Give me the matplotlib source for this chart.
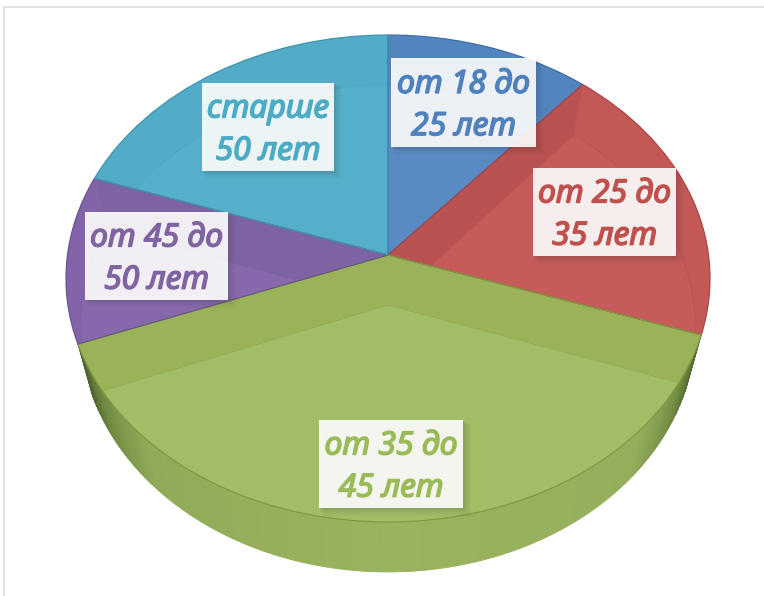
import numpy as np
import matplotlib
matplotlib.use('Agg')
import matplotlib.pyplot as plt
import matplotlib.patheffects as pe
from matplotlib.patches import Rectangle
from matplotlib.transforms import Transform
from matplotlib.colors import LinearSegmentedColormap

# percent of the pie
categories = ['от 18 до\n25 лет', 'от 25 до\n35 лет', 'от 35 до\n45 лет', 'от 45 до\n50 лет', 'старше\n50 лет']
values = [11.3, 18.9, 39.0, 11.1, 19.7]

top_colors = ['#5285c0', '#c25956', '#9ab258', '#8464a8', '#53acc7']
floor_colors = ['#5a8ac4', '#c55c5a', '#a1bd65', '#8868ac', '#56afca']
band_colors = ['#5082bf', '#b95250', '#9ab258', '#7e63a2', '#50aac6']
rim_colors = ['#4d7fba', '#b5504e', '#86a24c', '#7a5e9c', '#4ba3bd']
edge_colors = ['#3f6ea6', '#a84745', '#7f9a45', '#6b5290', '#3f94ae']
text_colors = ['#4f81bd', '#c0504d', '#9bbb59', '#8064a2', '#4bacc6']

# label boxes in pixels: left, top, right, bottom
boxes = [(391, 58, 536, 147), (533, 168, 676, 256), (319, 420, 463, 508),
         (85, 212, 228, 300), (202, 83, 334, 171)]


class Disc(Transform):
    # unit disc seen in perspective, output is in pixels
    input_dims = 2
    output_dims = 2

    def __init__(self, cy, a, b=241.2, k=0.0965):
        super().__init__()
        self.cy, self.a, self.b, self.k = cy, a, b, k

    def transform_non_affine(self, xy):
        xy = np.asarray(xy)
        w = 1 + self.k * xy[:, 1]
        return np.column_stack((388 + self.a * xy[:, 0] / w, self.cy - self.b * xy[:, 1] / w))


top = Disc(255, 320.5)
floor = Disc(305, 306)

fig = plt.figure(figsize=(7.64, 5.96), dpi=100)
ax = fig.add_axes([0, 0, 1, 1])

top_w, _ = ax.pie(values, startangle=90, counterclock=False, colors=top_colors)
floor_w, _ = ax.pie(values, startangle=90, counterclock=False, colors=floor_colors)
line_w, _ = ax.pie(values, startangle=90, counterclock=False, colors=['none'] * 5)

ax.set_aspect('auto')
ax.set_xlim(0, 764)
ax.set_ylim(596, 0)
ax.axis('off')

for i in range(5):
    top_w[i].set_transform(top + ax.transData)
    top_w[i].set_zorder(3)
    floor_w[i].set_transform(floor + ax.transData)
    floor_w[i].set_zorder(4)
    floor_w[i].set_edgecolor(rim_colors[i])
    floor_w[i].set_linewidth(0.4)
    # floor shows through the top of its own slice only, pie turns clipping off
    floor_w[i].set_clip_on(True)
    floor_w[i].set_clip_path(top_w[i])
    line_w[i].set_transform(top + ax.transData)
    line_w[i].set_zorder(6)
    line_w[i].set_edgecolor(edge_colors[i])
    line_w[i].set_linewidth(0.9)

# straight cut walls seen through the top, darker than the floor
cuts = np.radians(360 * np.cumsum([0] + values) / sum(values))
centre = np.array([[0.0, 0.0]])
for i in range(5):
    for c in (cuts[i], cuts[i + 1]):
        end = np.array([[np.sin(c), np.cos(c)]])
        quad = np.vstack((top.transform(centre), top.transform(end), floor.transform(end), floor.transform(centre)))
        band = ax.fill(quad[:, 0], quad[:, 1], color=band_colors[i], lw=0, zorder=5)[0]
        band.set_clip_path(top_w[i])

# side wall of the front slice, shaded along the rim
wall = LinearSegmentedColormap.from_list('wall', [
    (0, '#4f6230'), (0.07, '#6f8a40'), (0.17, '#94ae5c'), (0.5, '#9ab35d'),
    (0.83, '#90aa58'), (0.93, '#6f8a40'), (1, '#4f6230')])
angles = np.linspace(cuts[2], cuts[3], 141)
for j in range(140):
    rim = np.array([[np.sin(angles[j]), np.cos(angles[j])], [np.sin(angles[j + 1]), np.cos(angles[j + 1])]])
    quad = np.vstack((top.transform(rim), floor.transform(rim)[::-1]))
    ax.fill(quad[:, 0], quad[:, 1], color=wall(j / 139), lw=0.6, zorder=2)

# thin frame of the screenshot
ax.plot([3.5, 3.5, 764], [596, 7, 7], color='#dcdcdc', lw=1.2, zorder=1)

for i in range(5):
    l, t, r, b = boxes[i]
    for off, alpha in ((8, 0.03), (6, 0.04), (4, 0.05), (2, 0.06)):
        ax.add_patch(Rectangle((l + off / 2, t + off / 2), r - l + off / 2, b - t + off / 2,
                               fc='#303030', ec='none', alpha=alpha, zorder=7))
    ax.add_patch(Rectangle((l, t), r - l, b - t, fc='white', ec='none', alpha=0.9, zorder=8))
    ax.text((l + r) / 2, (t + b) / 2 + 3, categories[i], color=text_colors[i], ha='center', va='center',
            family='Noto Sans', style='italic', fontsize=23, linespacing=1.37, zorder=9,
            path_effects=[pe.withStroke(linewidth=1.1, foreground=text_colors[i])])

fig.savefig('out.png', dpi=100)
